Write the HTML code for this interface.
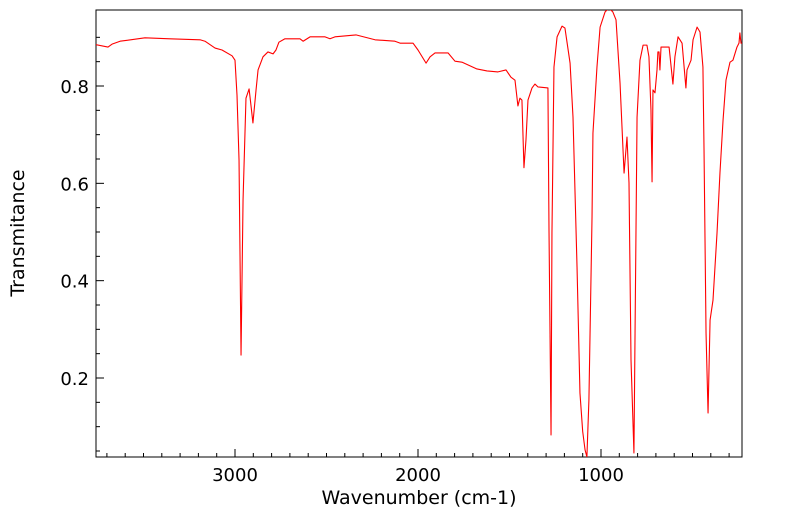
<!DOCTYPE html>
<html><head><meta charset="utf-8"><style>
html,body{margin:0;padding:0;background:#fff;}
svg{display:block;font-family:"DejaVu Sans","Liberation Sans",sans-serif;}
</style></head><body>
<svg id="chart" width="799" height="516" viewBox="0 0 799 516">
<defs><clipPath id="clip"><rect x="96" y="10" width="646" height="447"/></clipPath></defs>
<rect x="96" y="10" width="646" height="447" fill="none" stroke="#000" stroke-width="1"/>
<g id="ticks"></g>
<g id="labels"></g>
<path id="line" fill="none" stroke="#ff0000" stroke-width="1.1" stroke-linejoin="round" clip-path="url(#clip)"/>
<text x="419" y="504" font-size="19" text-anchor="middle">Wavenumber (cm-1)</text>
<text x="24" y="233" font-size="19" text-anchor="middle" transform="rotate(-90 24 233)">Transmitance</text>
</svg>
<script>
const wavenumbers=[3760,3694,3672,3628,3492,3355,3191,3164,3109,3071,3016,3000,2989,2978,2967,2956,2940,2923,2913,2902,2885,2874,2847,2820,2792,2776,2760,2727,2645,2628,2590,2508,2481,2454,2339,2235,2126,2098,2044,2027,2000,1956,1934,1907,1836,1798,1760,1678,1623,1563,1519,1492,1470,1454,1443,1432,1421,1410,1399,1377,1361,1344,1290,1284,1273,1268,1257,1240,1213,1197,1169,1153,1131,1115,1100,1087,1077,1066,1049,1044,1022,1005,978,965,951,935,918,896,874,858,847,836,820,814,803,787,770,749,738,727,721,716,705,694,689,683,678,672,628,607,596,579,557,536,530,508,497,475,459,443,437,426,415,404,388,366,350,333,317,295,279,257,246,241,235,230];
const transmittance=[0.885,0.880,0.886,0.892,0.899,0.897,0.895,0.892,0.878,0.874,0.862,0.853,0.781,0.648,0.247,0.566,0.775,0.794,0.761,0.724,0.792,0.833,0.860,0.870,0.866,0.874,0.890,0.897,0.897,0.892,0.901,0.901,0.897,0.901,0.905,0.895,0.892,0.888,0.888,0.888,0.874,0.847,0.860,0.868,0.868,0.851,0.849,0.835,0.831,0.829,0.833,0.818,0.812,0.759,0.775,0.771,0.632,0.689,0.771,0.796,0.804,0.798,0.796,0.498,0.083,0.498,0.839,0.901,0.923,0.919,0.847,0.736,0.428,0.169,0.090,0.052,0.038,0.155,0.531,0.703,0.839,0.921,0.952,0.957,0.958,0.952,0.936,0.806,0.621,0.695,0.601,0.237,0.046,0.292,0.736,0.853,0.884,0.884,0.860,0.751,0.603,0.792,0.786,0.833,0.870,0.870,0.833,0.880,0.880,0.804,0.860,0.901,0.888,0.796,0.833,0.853,0.895,0.921,0.911,0.839,0.668,0.292,0.128,0.319,0.360,0.498,0.621,0.730,0.812,0.849,0.853,0.880,0.888,0.909,0.888,0.888];
const xMajorTicks=[3000,2000,1000];
const yMajorTicks=[0.2,0.4,0.6,0.8];
const yLabels=["0.2","0.4","0.6","0.8"];
const X0=96,X1=742,Y0=10,Y1=457;
const wnLeft=3000+(235-X0)/0.183, wnRight=1000-(X1-601)/0.183;
const tTop=0.8+(86-Y0)/486.67, tBot=0.2-(Y1-378)/486.67;
function sx(w){return X0+(wnLeft-w)/(wnLeft-wnRight)*(X1-X0);}
function sy(t){return Y1-(t-tBot)/(tTop-tBot)*(Y1-Y0);}
const NS="http://www.w3.org/2000/svg";
let d="";
for(let i=0;i<wavenumbers.length;i++){d+=(i?"L":"M")+sx(wavenumbers[i]).toFixed(2)+","+sy(transmittance[i]).toFixed(2);}
document.getElementById('line').setAttribute('d',d);
const tg=document.getElementById('ticks'),lg=document.getElementById('labels');
function ln(x1,y1,x2,y2){const l=document.createElementNS(NS,'line');l.setAttribute('x1',x1);l.setAttribute('y1',y1);l.setAttribute('x2',x2);l.setAttribute('y2',y2);l.setAttribute('stroke','#000');


tg.appendChild(l);}
for(let w=3700;w>=300;w-=100){const x=sx(w);const major=w%1000===0;ln(x,Y1,x,Y1-(major?8:4));}
for(let k=1;k<=18;k++){const t=k*0.05;if(t<tBot||t>tTop)continue;const y=sy(t);const major=Math.abs(t*10-Math.round(t*10))<1e-6&&Math.round(t*10)%2===0;ln(X0,y,X0+(major?8:4),y);}
xMajorTicks.forEach(w=>{const t=document.createElementNS(NS,'text');t.setAttribute('x',sx(w));t.setAttribute('y',481);t.setAttribute('font-size','18');t.setAttribute('text-anchor','middle');t.textContent=w;


lg.appendChild(t);});
yMajorTicks.forEach((v,i)=>{const t=document.createElementNS(NS,'text');t.setAttribute('x',89);t.setAttribute('y',sy(v)+7);t.setAttribute('font-size','18');t.setAttribute('text-anchor','end');t.textContent=yLabels[i];


lg.appendChild(t);});
</script>
</body></html>
